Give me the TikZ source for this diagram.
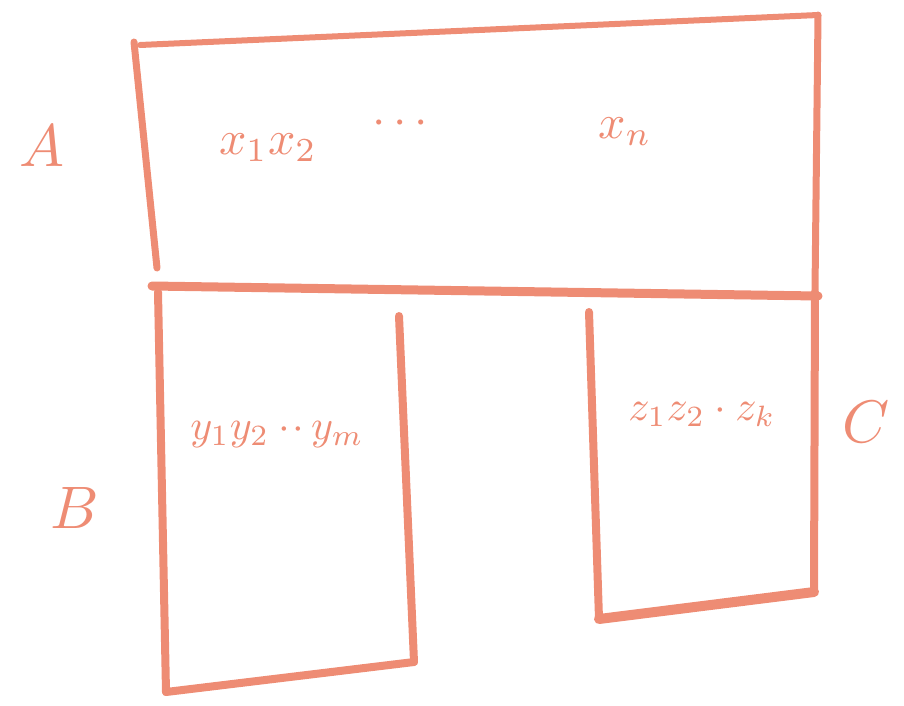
\documentclass[tikz,border=0pt]{standalone}
\usepackage{graphicx}
\definecolor{pen}{HTML}{EE8C74}
\newcommand{\bigtxt}[2]{\scalebox{#1}{#2}}
\begin{document}
\begin{tikzpicture}[x=1pt,y=-1pt,
  stroke/.style={draw=pen,line width=#1,line cap=round,line join=round},
  stroke/.default=8pt,
  lab/.style={text=pen,inner sep=0pt},
  cont/.style={text=pen,inner sep=0pt}]
\useasboundingbox (0,0) rectangle (904,705);
% A
\draw[stroke=7pt] (134,42) -- (157,268);
\draw[stroke=6pt] (140,45) -- (818,15);
\draw[stroke=7pt] (818,15) -- (815,290);
\draw[stroke=9pt] (152,286) -- (818,296);
% B
\draw[stroke=8pt] (158,292) -- (166,692);
\draw[stroke=8pt] (166,692) -- (414,662);
\draw[stroke=8pt] (399,316) -- (414,662);
% C
\draw[stroke=8pt] (589,312) -- (599,619);
\draw[stroke=10pt] (599,619) -- (814,592);
\draw[stroke=8pt] (815,292) -- (814,592);
% labels
\node[lab] (la) at (42,146) {\bigtxt{6}{$A$}};
\node[lab] (lb) at (75,508) {\bigtxt{6}{$B$}};
\node[lab] (lc) at (866,422) {\bigtxt{6}{$C$}};
\node[cont] (tx) at (268,148) {\bigtxt{4.8}{$x_1x_2$}};
\node[cont] (td) at (400,124) {\bigtxt{4.8}{$\cdots$}};
\node[cont] (tn) at (625,132) {\bigtxt{4.8}{$x_n$}};
\node[cont] (ty) at (277,434) {\bigtxt{4.2}{$y_1y_2\cdot\!\cdot\, y_m$}};
\node[cont] (tz) at (702,414) {\bigtxt{4.2}{$z_1z_2\cdot z_k$}};
\end{tikzpicture}
\end{document}
